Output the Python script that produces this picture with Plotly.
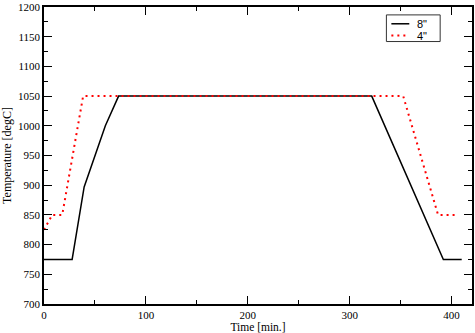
import plotly.graph_objects as go

t8 = [0, 27.6, 39.4, 60.2, 73.2, 321.6, 391.9, 409.9]
T8 = [775, 775, 897, 1000, 1050, 1050, 775, 775]
t4 = [0, 8.1, 17.9, 38.4, 352.5, 386.7, 405]
T4 = [825, 850, 850, 1050, 1050, 850, 850]
names = ['8"', '4"']

FONT = "Liberation Serif"
RED_DOT = dict(color="#ff0000", width=2, dash="2px,4px")
BLACK = dict(color="black", width=1.5)

fig = go.Figure()
fig.add_trace(go.Scatter(x=t8, y=T8, mode="lines", name=names[0], line=BLACK, showlegend=False))
fig.add_trace(go.Scatter(x=t4, y=T4, mode="lines", name=names[1], line=RED_DOT, showlegend=False))

axis_common = dict(
    showgrid=False, zeroline=False, showline=True, linecolor="black", linewidth=1.5,
    mirror="allticks", ticks="inside", ticklen=8, tickcolor="black", tickwidth=1,
    tickfont=dict(family=FONT, size=11, color="black"), ticklabeloverflow="allow",
)
fig.update_xaxes(range=[0, 420], tick0=0, dtick=100,
                 minor=dict(dtick=50, ticks="inside", ticklen=4, tickcolor="black"),
                 title=dict(text="Time [min.]", font=dict(family=FONT, size=11.5, color="black"), standoff=3),
                 **axis_common)
fig.update_yaxes(range=[700, 1200], tick0=700, dtick=50,
                 minor=dict(dtick=25, ticks="inside", ticklen=4, tickcolor="black"),
                 title=dict(text="Temperature [degC]", font=dict(family=FONT, size=12, color="black"), standoff=6),
                 **axis_common)

# manual legend (paper coordinates)
fig.add_shape(type="rect", xref="paper", yref="paper", x0=0.800, x1=0.9256, y0=0.8837, y1=0.9734,
              line=dict(color="#333333", width=1), fillcolor="white", layer="above")
fig.add_shape(type="line", xref="paper", yref="paper", x0=0.8116, x1=0.8535, y0=0.9435, y1=0.9435,
              line=BLACK, layer="above")
fig.add_shape(type="line", xref="paper", yref="paper", x0=0.8116, x1=0.8535, y0=0.9037, y1=0.9037,
              line=RED_DOT, layer="above")
for yy, nm in zip([0.9435, 0.9037], names):
    fig.add_annotation(x=0.8698, y=yy, xref="paper", yref="paper", text=nm, showarrow=False,
                       xanchor="left", yanchor="middle", borderpad=0,
                       font=dict(family="Liberation Sans", size=11, color="black"))

fig.update_layout(
    width=475, height=333,
    margin=dict(l=44, r=1, t=5, b=27),
    plot_bgcolor="white", paper_bgcolor="white",
    showlegend=False,
)
fig.write_html("out.html")
